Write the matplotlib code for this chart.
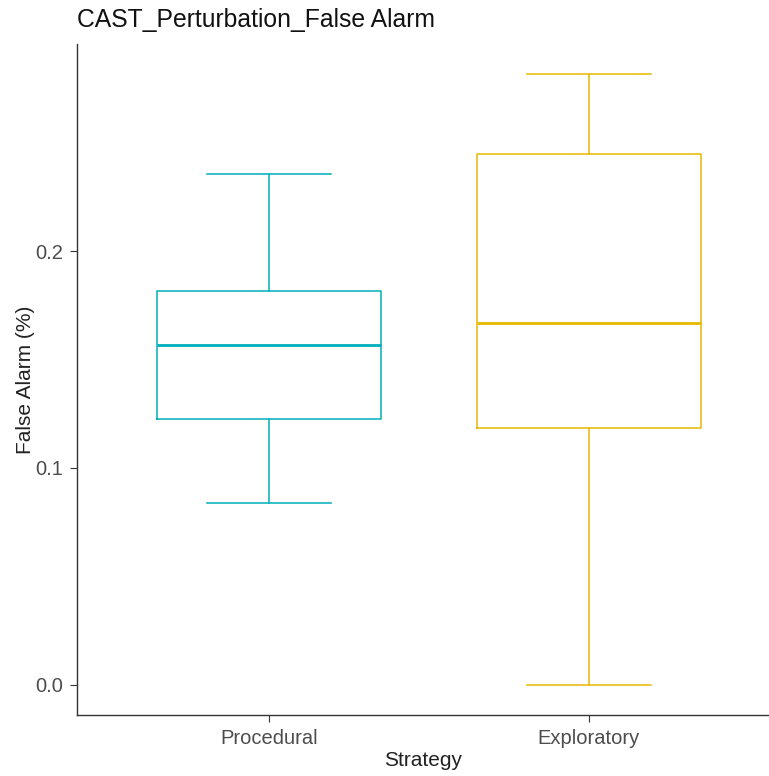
import matplotlib
matplotlib.use("Agg")
import matplotlib.pyplot as plt

plt.rcParams['font.family'] = ['Liberation Sans', 'DejaVu Sans']

strategies = ['Procedural', 'Exploratory']
colors = ['#00AFBB', '#E7B800']
whisker_low = [0.0839, 0.0]
q1 = [0.1226, 0.1184]
medians = [0.1567, 0.1668]
q3 = [0.1816, 0.2447]
whisker_high = [0.2355, 0.2816]

stats = []
for i, name in enumerate(strategies):
    stats.append({'label': name, 'whislo': whisker_low[i], 'q1': q1[i],
                  'med': medians[i], 'q3': q3[i], 'whishi': whisker_high[i],
                  'fliers': []})

fig = plt.figure(figsize=(7.69, 7.76), dpi=100)
ax = fig.add_axes([0.1001, 0.0786, 0.8999, 0.8647])

for i, s in enumerate(stats):
    c = colors[i]
    ax.bxp([s], positions=[i + 1], widths=0.7, capwidths=0.39, showfliers=False,
           boxprops=dict(color=c, linewidth=1.1),
           whiskerprops=dict(color=c, linewidth=1.1),
           capprops=dict(color=c, linewidth=1.1),
           medianprops=dict(color=c, linewidth=2.0),
           manage_ticks=False)

lo = min(whisker_low)
hi = max(whisker_high)
pad = 0.05 * (hi - lo)
ax.set_ylim(lo - pad, hi + pad)
ax.set_xlim(0.4, 0.4 + (769 - 77) / 320)
ax.set_xticks([1, 2])
ax.set_xticklabels(strategies)
ax.set_yticks([0.0, 0.1, 0.2])
ax.set_yticklabels(['0.0', '0.1', '0.2'])

for side in ['top', 'right']:
    ax.spines[side].set_visible(False)
for side in ['left', 'bottom']:
    ax.spines[side].set_color('#333333')
    ax.spines[side].set_linewidth(1.0)
ax.tick_params(colors='#333333', labelcolor='#4d4d4d', labelsize=14.5, length=5, pad=5)

ax.set_xlabel('Strategy', fontsize=15, color='#222222', labelpad=2)
ax.set_ylabel('False Alarm (%)', fontsize=15, color='#222222', labelpad=0)
ax.set_title('CAST_Perturbation_False Alarm', fontsize=17.8, loc='left', pad=12, color='#111111')

fig.savefig('out.png', dpi=100)
